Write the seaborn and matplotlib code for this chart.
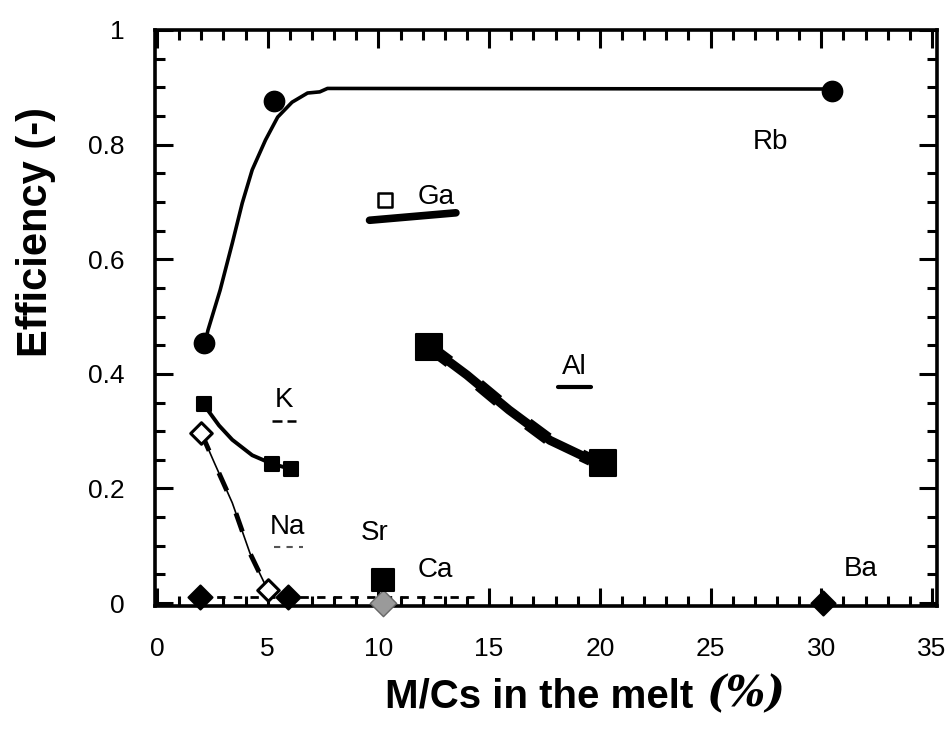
import matplotlib
matplotlib.use("Agg")
import matplotlib.pyplot as plt
import seaborn as sns
import pandas as pd
import numpy as np
from matplotlib.ticker import MultipleLocator

# ---------------- data ----------------
rb_x = [2.1, 5.3, 30.5]
rb_y = [0.454, 0.876, 0.894]
rb_curve_x = [2.1, 2.3, 2.85, 3.4, 3.85, 4.3, 4.9, 5.45, 6.1, 6.8, 7.35, 7.7, 30.5]
rb_curve_y = [0.44, 0.476, 0.546, 0.628, 0.698, 0.756, 0.808, 0.848, 0.874, 0.89, 0.892, 0.898, 0.897]

ga_x = [10.3]
ga_y = [0.703]
ga_bar_x = [9.6, 13.5]
ga_bar_y = [0.668, 0.681]

al_x = [12.3, 20.15]
al_y = [0.447, 0.244]
al_curve_x = [12.3, 14.0, 15.9, 17.75, 19.6]
al_curve_y = [0.447, 0.398, 0.337, 0.284, 0.25]

k_x = [2.1, 5.2, 6.05]
k_y = [0.347, 0.243, 0.234]
k_curve_x = [2.1, 2.8, 3.4, 4.3, 5.2, 6.05]
k_curve_y = [0.347, 0.31, 0.285, 0.258, 0.243, 0.234]

na_x = [2.0, 5.0]
na_y = [0.297, 0.023]
na_curve_x = [2.0, 2.6, 3.4, 4.2, 5.0]
na_curve_y = [0.297, 0.244, 0.175, 0.087, 0.023]

ba_x = [1.95, 5.9, 30.1]
ba_y = [0.01, 0.01, 0.0]
ba_line_x = [1.95, 14.3]
ba_line_y = [0.01, 0.01]

ca_x = [10.2]
ca_y = [0.04]
sr_x = [10.2]
sr_y = [0.0]

labels = ["Rb", "Ga", "Al", "K", "Na", "Sr", "Ca", "Ba"]
label_x = [27.7, 11.75, 18.85, 5.75, 5.9, 9.85, 12.55, 31.8]
label_y = [0.805, 0.709, 0.412, 0.354, 0.133, 0.122, 0.058, 0.06]
label_ha = ["center", "left", "center", "center", "center", "center", "center", "center"]

# underlines drawn under some labels
ul_k_x, ul_k_y = [5.2, 6.3], [0.318, 0.318]
ul_na_x, ul_na_y = [5.3, 6.6], [0.098, 0.098]
ul_al_x, ul_al_y = [18.1, 19.6], [0.377, 0.377]

x_ticks = [0, 5, 10, 15, 20, 25, 30, 35]
y_ticks = [0, 0.2, 0.4, 0.6, 0.8, 1.0]
y_ticklabels = ["0", "0.2", "0.4", "0.6", "0.8", "1"]

# ---------------- figure ----------------
sns.set_theme(style="ticks")
plt.rcParams["font.family"] = ["Liberation Sans", "DejaVu Sans"]
plt.rcParams["text.color"] = "black"
plt.rcParams["axes.labelcolor"] = "black"
plt.rcParams["xtick.color"] = "black"
plt.rcParams["ytick.color"] = "black"

fig = plt.figure(figsize=(9.51, 7.42), dpi=100)
ax = fig.add_axes([0.163, 0.1833, 0.8223, 0.7763])

def line(x, y, **kw):
    sns.lineplot(x=x, y=y, ax=ax, sort=False, estimator=None, legend=False, **kw)

# lines
line(rb_curve_x, rb_curve_y, color="black", linewidth=2.6)
line(ga_bar_x, ga_bar_y, color="black", linewidth=5.5, solid_capstyle="round")
line(al_curve_x, al_curve_y, color="black", linewidth=6.5)
line(al_curve_x, al_curve_y, color="black", linewidth=9, linestyle=(0, (2, 3)))
line(k_curve_x, k_curve_y, color="black", linewidth=2.8)
line(na_curve_x, na_curve_y, color="black", linewidth=1.2)
line(na_curve_x, na_curve_y, color="black", linewidth=3.5, linestyle=(0, (4, 5)))
line(ba_line_x, ba_line_y, color="black", linewidth=2.0, linestyle=(0, (3, 3)))
line(ul_k_x, ul_k_y, color="black", linewidth=1.8, linestyle=(0, (4, 2)))
line(ul_na_x, ul_na_y, color="#555555", linewidth=1.5, linestyle=(0, (3, 3)))
line(ul_al_x, ul_al_y, color="black", linewidth=3.0, solid_capstyle="round")

# markers
def pts(x, y, marker, s, fc, ec="black", lw=1.5, z=5):
    sns.scatterplot(x=x, y=y, ax=ax, marker=marker, s=s, color=fc,
                    edgecolor=ec, linewidth=lw, zorder=z, legend=False,
                    clip_on=False)

pts(rb_x, rb_y, "o", 200, "black")
pts(ga_x, ga_y, "s", 110, "white", lw=1.8)
pts(al_x, al_y, "s", 330, "black")
pts(k_x, k_y, "s", 110, "black")
pts(na_x, na_y, "D", 120, "white", lw=2.2)
pts(ba_x, ba_y, "D", 150, "black")
pts(ca_x, ca_y, "s", 240, "black")
pts(sr_x, sr_y, "D", 180, "#9a9a9a", ec="#666666", lw=1.0, z=4)

for t, lx, ly, ha in zip(labels, label_x, label_y, label_ha):
    ax.text(lx, ly, t, fontsize=20, ha=ha, va="center", color="black")

# axes
ax.set_xlim(-0.09, 35.23)
ax.set_ylim(-0.005, 1.0)
ax.set_xticks(x_ticks)
ax.set_xticklabels([str(v) for v in x_ticks])
ax.set_yticks(y_ticks)
ax.set_yticklabels(y_ticklabels)
ax.xaxis.set_minor_locator(MultipleLocator(1))
ax.yaxis.set_minor_locator(MultipleLocator(0.05))
ax.tick_params(which="both", direction="in", top=True, right=True,
               width=2.2, color="black", labelsize=19, labelcolor="black")
ax.tick_params(which="major", length=13, pad=22)
ax.tick_params(which="minor", length=7)
for sp in ax.spines.values():
    sp.set_linewidth(2.6)
    sp.set_color("black")
    sp.set_visible(True)
ax.set_xlabel("")
ax.set_ylabel("")

fig.text(385 / 951, 1 - 697 / 742, "M/Cs in the melt", fontsize=29,
         fontweight="bold", ha="left", va="center", color="black")
fig.text(706 / 951, 1 - 694 / 742, "(%)", fontsize=30, fontweight="bold",
         fontstyle="italic", family=["DejaVu Serif"], ha="left", va="center",
         color="black")
fig.text(36 / 951, 1 - 232 / 742, "Efficiency (-)", fontsize=30,
         fontweight="bold", rotation=90, ha="center", va="center",
         color="black")

fig.savefig("out.png", dpi=100, facecolor="white")
